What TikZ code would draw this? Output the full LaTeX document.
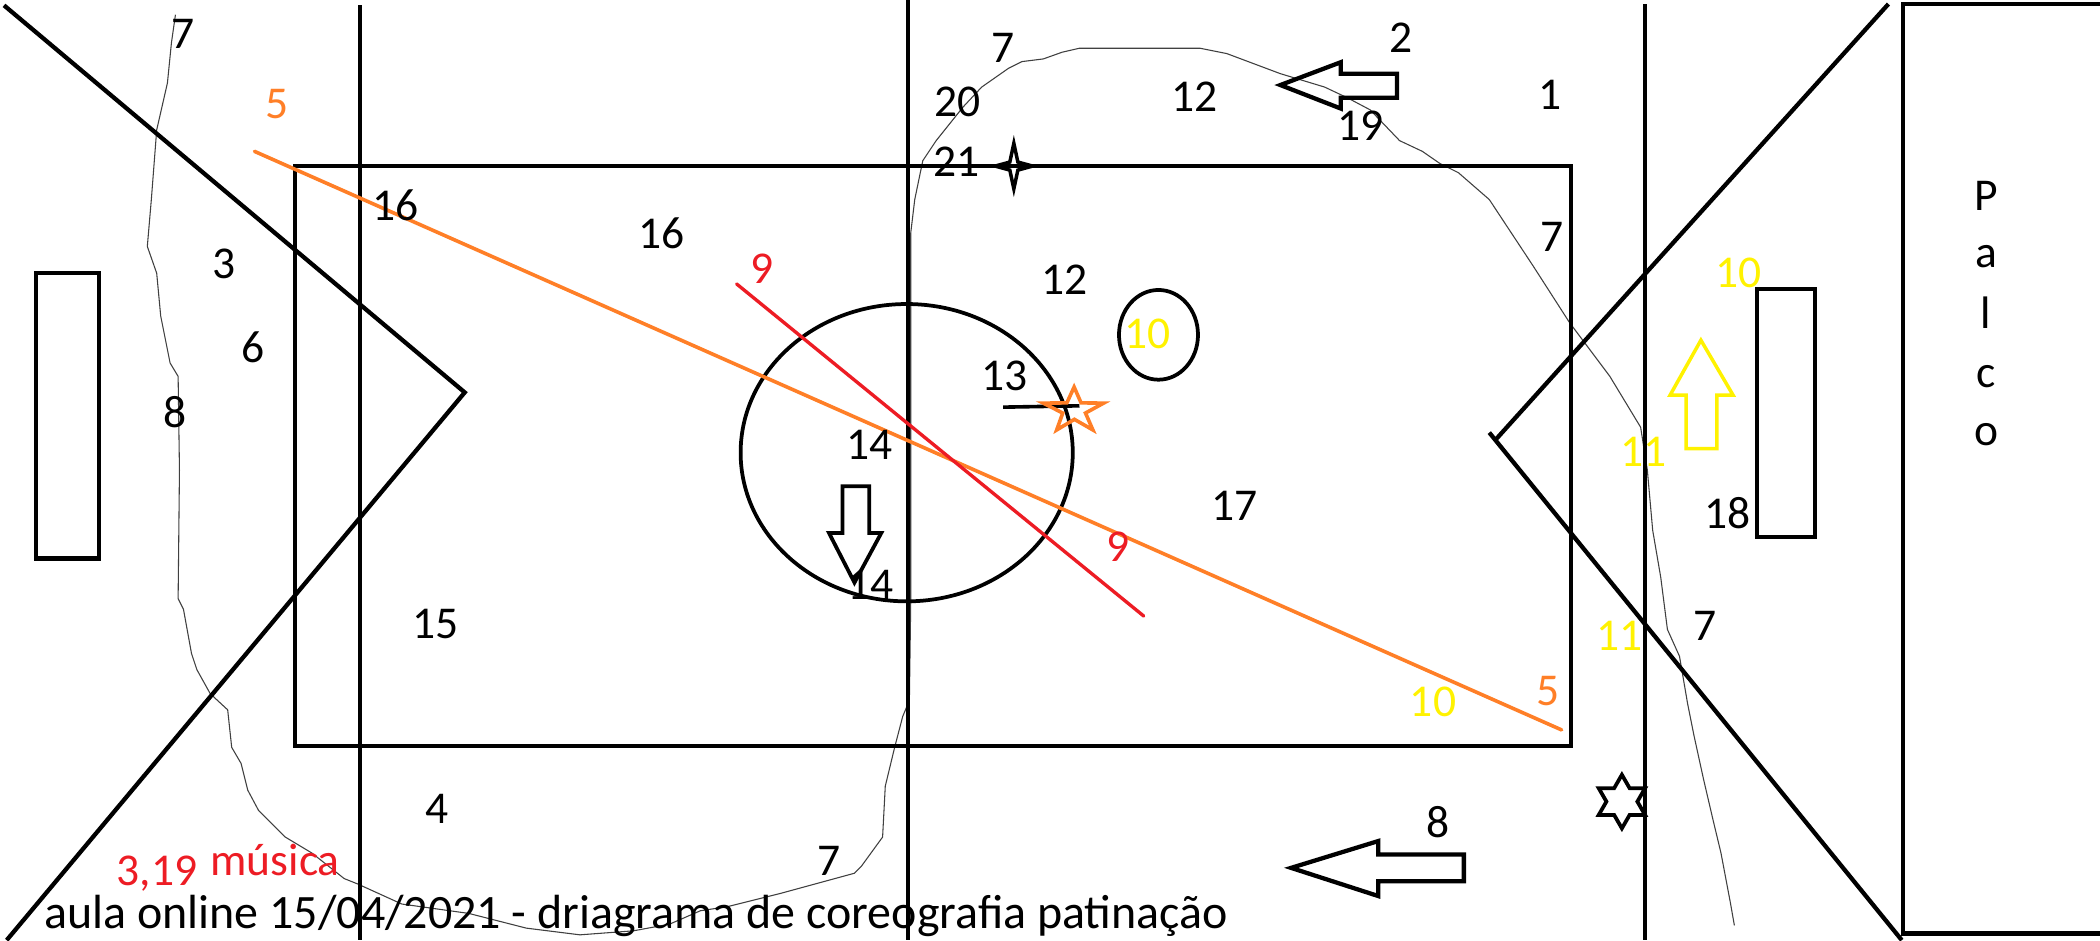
\documentclass[tikz,border=0pt]{standalone}
\usepackage{fontspec}
\setmainfont{Carlito}
\definecolor{porange}{RGB}{255,127,39}
\definecolor{pred}{RGB}{237,28,36}
\definecolor{pyellow}{RGB}{255,242,0}
\tikzset{
  heavy/.style={draw=black, line width=3.2pt},
  medium/.style={draw=black, line width=2.8pt},
  track/.style={draw=black!75, line width=0.8pt, line join=round},
  lbl/.style={inner sep=0pt, font=\fontsize{34}{40}\selectfont},
  blk/.style={lbl, text=black},
  org/.style={lbl, text=porange},
  redt/.style={lbl, text=pred},
  yel/.style={lbl, text=pyellow},
  blockarrow/.style={draw=black, line width=3.2pt, line join=miter},
}
\begin{document}
\begin{tikzpicture}[x=1pt,y=-1pt]
\useasboundingbox (0,0) rectangle (1568,702);
\fill[white] (0,0) rectangle (1568,702);

% skating track
\draw[track] (131,11) -- (128,32) -- (125,62) -- (117,97) -- (113,149) -- (110,184)
  -- (117,204) -- (120,236) -- (127,271) -- (133,281) -- (134,351) -- (133,447)
  -- (137,455) -- (143,488) -- (147,500) -- (157,518) -- (170,530) -- (173,558)
  -- (180,570) -- (185,590) -- (193,605) -- (213,625) -- (233,637) -- (257,656)
  -- (267,660) -- (300,675) -- (350,682) -- (393,693) -- (433,698) -- (473,695)
  -- (500,690) -- (523,680) -- (543,677) -- (583,667) -- (638,652) -- (643,647)
  -- (659,625) -- (661,587) -- (668,558) -- (674,535) -- (679,523) -- (680,450)
  -- (680,174) -- (683,149) -- (689,120) -- (699,105) -- (719,80) -- (733,65)
  -- (753,51) -- (763,46) -- (779,44) -- (793,39) -- (806,36) -- (896,36)
  -- (916,40) -- (956,55) -- (989,65) -- (1006,73) -- (1023,82) -- (1045,105)
  -- (1062,113) -- (1075,122) -- (1089,129) -- (1112,149) -- (1145,199)
  -- (1172,241) -- (1202,281) -- (1225,319) -- (1230,351) -- (1234,396)
  -- (1240,431) -- (1245,470) -- (1254,490) -- (1260,525) -- (1265,550)
  -- (1272,582) -- (1279,612) -- (1285,637) -- (1292,674) -- (1295,691);

% court structure
\draw[heavy, line join=miter] (3,4) -- (347,293) -- (5,702);
\draw[heavy] (1410,3) -- (1117,328);
\draw[heavy] (1112,323) -- (1420,702);
\draw[heavy] (269,4) -- (269,702);
\draw[heavy] (678,0) -- (678,702);
\draw[heavy] (1228,3) -- (1228,702);
\draw[heavy] (220,124) rectangle (1173,557);
\draw[heavy] (27,204) rectangle (74,417);
\draw[heavy] (1312,216) rectangle (1355,401);
\draw[heavy] (1421,3) rectangle (1590,697);
\draw[medium] (677,338) ellipse [x radius=124, y radius=111];
\draw[medium] (865,250) ellipse [x radius=29.5, y radius=33.5];

% coloured lines
\draw[porange, line width=2.7pt, line cap=round] (190,113) -- (1166,545);
\draw[pred, line width=2.5pt, line cap=round] (550,212) -- (854,460);

% short black line and orange star
\draw[black, line width=2.7pt] (749,304) -- (806,303);
\draw[porange, line width=2.7pt, line join=miter] (802,289) -- (807.2,300.8) -- (824,301)
  -- (810.5,308.4) -- (816,321) -- (802.2,313.1) -- (789,321) -- (793.5,308.4)
  -- (779,301) -- (796.6,300.8) -- cycle;

% four-point star
\draw[black, line width=2.6pt, line join=miter] (757,107) -- (760,121) -- (771,124)
  -- (760,127) -- (757,141) -- (754,127) -- (743,124) -- (754,121) -- cycle;

% six-point star
\draw[black, line width=2.8pt, line join=miter]
  (1211,578.5) -- ++(5.77,10) -- ++(11.55,0) -- ++(-5.77,10) -- ++(5.77,10)
  -- ++(-11.55,0) -- ++(-5.77,10) -- ++(-5.77,-10) -- ++(-11.55,0)
  -- ++(5.77,-10) -- ++(-5.77,-10) -- ++(11.55,0) -- cycle;

% block arrows
\draw[blockarrow] (956,63.5) -- (1001,46.5) -- (1001,55) -- (1043,55) -- (1043,73)
  -- (1001,73) -- (1001,81) -- cycle;
\draw[blockarrow] (964,648) -- (1029,628) -- (1029,638) -- (1093,638) -- (1093,658)
  -- (1029,658) -- (1029,669) -- cycle;
\draw[blockarrow, line width=2.8pt] (629,363) -- (649,363) -- (649,398) -- (658,398)
  -- (638,435) -- (619,398) -- (629,398) -- cycle;
\draw[pyellow, line width=2.6pt, line join=miter] (1270,254) -- (1294,295) -- (1282,295)
  -- (1282,335) -- (1259,335) -- (1259,295) -- (1247,295) -- cycle;

% labels
\node[blk] (n7a) at (137,25) {7};
\node[org] (n5a) at (207,78) {5};
\node[blk] (n16a) at (295,153) {16};
\node[blk] (n16b) at (494,174) {16};
\node[blk] (n3) at (167,197) {3};
\node[blk] (n6) at (189,259) {6};
\node[blk] (n8a) at (131,308) {8};
\node[blk] (n7b) at (749,36) {7};
\node[blk] (n20) at (715,76) {20};
\node[blk] (n12a) at (892,72) {12};
\node[blk] (n2) at (1046,28) {2};
\node[blk] (n1) at (1157,71) {1};
\node[blk] (n19) at (1016,94) {19};
\node[blk] (n21) at (714,121) {21};
\node[blk] (n7c) at (1159,177) {7};
\node[blk] (n12b) at (795,209) {12};
\node[yel] (n10a) at (857,249) {10};
\node[yel] (n10b) at (1298,204) {10};
\node[blk] (n13) at (750,281) {13};
\node[blk] (n14a) at (649,332) {14};
\node[blk] (n14b) at (650,437) {14};
\node[redt] (n9a) at (569,201) {9};
\node[redt] (n9b) at (835,408) {9};
\node[blk] (n17) at (922,378) {17};
\node[yel] (n11a) at (1227,337) {11};
\node[blk] (n18) at (1290,383) {18};
\node[yel] (n11b) at (1209,475) {11};
\node[blk] (n7d) at (1273,467) {7};
\node[yel] (n10c) at (1070,524) {10};
\node[org] (n5b) at (1156,516) {5};
\node[blk] (n15) at (325,466) {15};
\node[blk] (n4) at (326,604) {4};
\node[blk] (n8b) at (1074,614) {8};
\node[blk] (n7e) at (619,643) {7};
\node[redt, anchor=base west] (n319) at (87,661) {3,19};
\node[redt, anchor=base west] (musica) at (157,654) {música};

% Palco
\node[blk, anchor=base] (pP) at (1483,157) {P};
\node[blk, anchor=base] (pa) at (1483,200) {a};
\node[blk, anchor=base] (pl) at (1483,245) {l};
\node[blk, anchor=base] (pc) at (1483,289) {c};
\node[blk, anchor=base] (po) at (1483,333) {o};

% title
\node[lbl, anchor=base west, font=\fontsize{35.8}{42}\selectfont] (title) at (33,693)
  {aula online 15/04/2021 - driagrama de coreografia patinação};
\end{tikzpicture}
\end{document}
